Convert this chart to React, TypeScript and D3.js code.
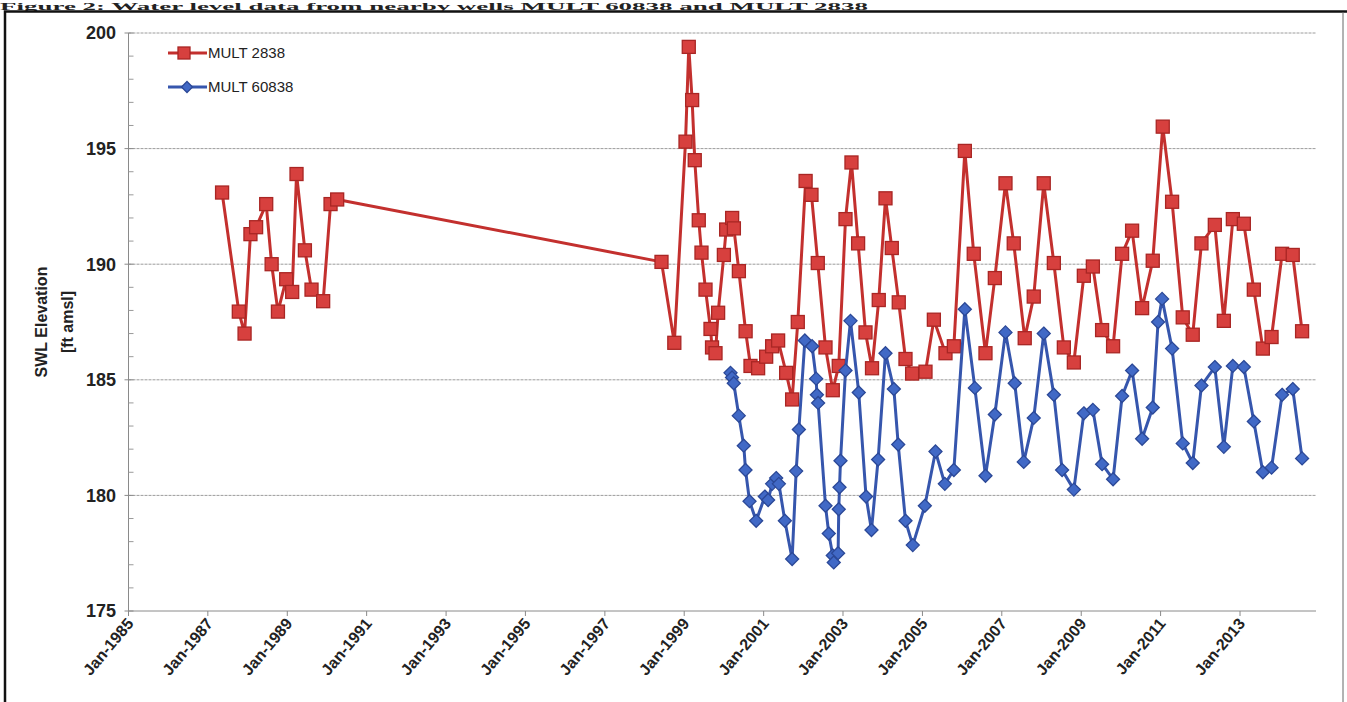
import React from "react";
import * as d3 from "d3";

const TITLE = "Figure 2: Water level data from nearby wells MULT 60838 and MULT 2838";
const Y_TITLE_1 = "SWL Elevation";
const Y_TITLE_2 = "[ft amsl]";
const SERIES_NAMES = ["MULT 2838", "MULT 60838"];

const xTickYears = [1985, 1987, 1989, 1991, 1993, 1995, 1997, 1999, 2001, 2003, 2005, 2007, 2009, 2011, 2013];
const yTicks = [175, 180, 185, 190, 195, 200];

const redDates = [
  "1987-05-12", "1987-10-13", "1987-12-05", "1988-01-28", "1988-03-20", "1988-06-21", "1988-08-10", "1988-10-07",
  "1988-12-22", "1989-02-15", "1989-03-27", "1989-06-12", "1989-08-12", "1989-11-27", "1990-02-03", "1990-04-05",
  "1998-06-06", "1998-10-02", "1999-01-13", "1999-02-12", "1999-03-15", "1999-04-08", "1999-05-15", "1999-06-09",
  "1999-07-16", "1999-08-31", "1999-09-14", "1999-10-16", "1999-11-09", "2000-01-01", "2000-01-22", "2000-03-17",
  "2000-04-02", "2000-05-18", "2000-07-19", "2000-09-02", "2000-11-11", "2001-01-24", "2001-03-20", "2001-05-14",
  "2001-07-27", "2001-09-20", "2001-11-11", "2002-01-22", "2002-03-17", "2002-05-14", "2002-07-24", "2002-09-29",
  "2002-11-23", "2003-01-24", "2003-03-20", "2003-05-20", "2003-07-27", "2003-09-25", "2003-11-26", "2004-01-27",
  "2004-03-25", "2004-05-28", "2004-07-29", "2004-09-28", "2005-01-29", "2005-04-16", "2005-08-01", "2005-10-17",
  "2006-01-26", "2006-04-18", "2006-08-04", "2006-10-29", "2007-02-04", "2007-04-21", "2007-07-31", "2007-10-22",
  "2008-01-22", "2008-04-24", "2008-07-25", "2008-10-25", "2009-01-25", "2009-04-18", "2009-07-12", "2009-10-21",
  "2010-01-12", "2010-04-14", "2010-07-15", "2010-10-21", "2011-01-21", "2011-04-17", "2011-07-24", "2011-10-24",
  "2012-01-12", "2012-05-14", "2012-08-05", "2012-10-27", "2013-02-05", "2013-05-08", "2013-07-30", "2013-10-18",
  "2014-01-23", "2014-05-01", "2014-07-26",
];
const redValues = [
  193.1, 187.95, 187.0, 191.3, 191.6, 192.6, 190.0, 187.95,
  189.35, 188.8, 193.9, 190.6, 188.9, 188.4, 192.6, 192.8,
  190.1, 186.6, 195.3, 199.4, 197.1, 194.5, 191.9, 190.5,
  188.9, 187.2, 186.4, 186.15, 187.9, 190.4, 191.5, 192.0,
  191.55, 189.7, 187.1, 185.6, 185.5, 186.0, 186.45, 186.7,
  185.3, 184.15, 187.5, 193.6, 193.0, 190.05, 186.4, 184.55,
  185.6, 191.95, 194.4, 190.9, 187.05, 185.5, 188.45, 192.85,
  190.7, 188.35, 185.9, 185.27, 185.35, 187.6, 186.15, 186.45,
  194.9, 190.45, 186.15, 189.4, 193.5, 190.9, 186.8, 188.6,
  193.5, 190.05, 186.4, 185.75, 189.5, 189.9, 187.15, 186.45,
  190.45, 191.45, 188.1, 190.15, 195.95, 192.7, 187.7, 186.95,
  190.9, 191.7, 187.55, 191.95, 191.75, 188.9, 186.35, 186.85,
  190.45, 190.4, 187.1,
];

const blueDates = [
  "2000-03-02", "2000-03-16", "2000-04-01", "2000-05-17", "2000-07-02", "2000-07-18", "2000-08-24", "2000-10-24",
  "2001-01-12", "2001-02-11", "2001-03-20", "2001-04-26", "2001-05-21", "2001-07-15", "2001-09-20", "2001-10-27",
  "2001-11-21", "2002-01-15", "2002-03-23", "2002-04-29", "2002-05-06", "2002-05-17", "2002-07-24", "2002-08-23",
  "2002-09-29", "2002-10-08", "2002-11-17", "2002-11-23", "2002-11-30", "2002-12-09", "2003-01-24", "2003-03-11",
  "2003-05-26", "2003-08-01", "2003-09-20", "2003-11-20", "2004-01-27", "2004-04-13", "2004-05-23", "2004-07-29",
  "2004-10-04", "2005-01-23", "2005-05-01", "2005-07-26", "2005-10-17", "2006-01-26", "2006-04-28", "2006-08-04",
  "2006-10-29", "2007-02-04", "2007-04-30", "2007-07-22", "2007-10-22", "2008-01-22", "2008-04-24", "2008-07-09",
  "2008-10-25", "2009-01-25", "2009-04-18", "2009-07-12", "2009-10-21", "2010-01-12", "2010-04-14", "2010-07-15",
  "2010-10-21", "2010-12-09", "2011-01-15", "2011-04-17", "2011-07-24", "2011-10-24", "2012-01-12", "2012-05-14",
  "2012-08-05", "2012-10-27", "2013-02-05", "2013-05-08", "2013-07-30", "2013-10-18", "2014-01-23", "2014-05-01",
  "2014-07-26",
];
const blueValues = [
  185.3, 185.1, 184.85, 183.45, 182.15, 181.1, 179.75, 178.9,
  179.95, 179.8, 180.5, 180.75, 180.5, 178.9, 177.25, 181.05,
  182.85, 186.7, 186.45, 185.05, 184.35, 184.0, 179.55, 178.35,
  177.4, 177.1, 177.5, 179.4, 180.35, 181.5, 185.4, 187.55,
  184.45, 179.95, 178.5, 181.55, 186.15, 184.6, 182.2, 178.9,
  177.85, 179.55, 181.9, 180.5, 181.1, 188.05, 184.65, 180.85,
  183.5, 187.05, 184.85, 181.45, 183.35, 187.0, 184.35, 181.1,
  180.25, 183.55, 183.7, 181.35, 180.7, 184.3, 185.4, 182.45,
  183.8, 187.5, 188.5, 186.35, 182.25, 181.4, 184.75, 185.55,
  182.1, 185.6, 185.55, 183.2, 181.0, 181.2, 184.35, 184.6,
  181.6,
];

const X_MIN = "1985-01-01";
const X_MAX = "2014-12-01";

const parse = d3.timeParse("%Y-%m-%d");
const fmt = d3.timeFormat("%b-%Y");

const RED_LINE = "#c3302e";
const RED_FILL = "#d7403e";
const RED_EDGE = "#a92624";
const BLUE_LINE = "#3656ad";
const BLUE_FILL = "#4169c6";
const BLUE_EDGE = "#2b4897";
const FONT = "'Liberation Sans', Arial, sans-serif";

type Pt = { d: Date; v: number };

function Square({ x, y, s }: { x: number; y: number; s: number }) {
  return <rect x={x - s / 2} y={y - s / 2} width={s} height={s} fill={RED_FILL} stroke={RED_EDGE} strokeWidth={1.3} />;
}
function Diamond({ x, y, r }: { x: number; y: number; r: number }) {
  return (
    <polygon
      points={`${x},${y - r} ${x + r},${y} ${x},${y + r} ${x - r},${y}`}
      fill={BLUE_FILL}
      stroke={BLUE_EDGE}
      strokeWidth={1.3}
    />
  );
}

export default function App() {
  const W = 1347;
  const H = 702;
  const left = 128.5;
  const right = 1316;
  const top = 33;
  const bottom = 611;

  const x = d3.scaleTime().domain([parse(X_MIN)!, parse(X_MAX)!]).range([left, right]);
  const y = d3.scaleLinear().domain([175, 200]).range([bottom, top]);

  const red: Pt[] = redDates.map((s, i) => ({ d: parse(s)!, v: redValues[i] }));
  const blue: Pt[] = blueDates.map((s, i) => ({ d: parse(s)!, v: blueValues[i] }));
  const line = d3
    .line<Pt>()
    .x((p) => x(p.d))
    .y((p) => y(p.v));

  const xTicks = xTickYears.map((yr) => new Date(yr, 0, 1));
  const minorY = d3.range(175, 201, 1).filter((v) => v % 5 !== 0);

  return (
    <svg
      width={W}
      height={H}
      style={{ position: "absolute", left: 0, top: 0, background: "#fff" }}
      fontFamily={FONT}
    >
      <rect x={0} y={0} width={W} height={H} fill="#fff" />
      {/* page title */}
      <text x={0} y={9.5} fontFamily="'Liberation Serif', 'Times New Roman', serif" fontWeight="bold" fontSize={10.5} fill="#222" textLength={868} lengthAdjust="spacingAndGlyphs">
        {TITLE}
      </text>
      {/* frame */}
      <path d={`M5,${H} V11.5 H${W}`} fill="none" stroke="#111" strokeWidth={2.5} />
      <line x1={1343} x2={1343} y1={12} y2={H} stroke="#666" strokeWidth={1} />

      {/* gridlines */}
      {yTicks
        .filter((v) => v !== 175)
        .map((v) => (
          <line key={v} x1={left} x2={right} y1={y(v)} y2={y(v)} stroke="#9c9c9c" strokeWidth={1} strokeDasharray="3,1" />
        ))}
      {/* y axis */}
      <line x1={left} x2={left} y1={top} y2={bottom} stroke="#8a8a8a" strokeWidth={1} />
      {yTicks.map((v) => (
        <line key={"yt" + v} x1={left - 4} x2={left + 5} y1={y(v)} y2={y(v)} stroke="#8a8a8a" />
      ))}
      {minorY.map((v) => (
        <line key={"ym" + v} x1={left} x2={left + 5} y1={y(v)} y2={y(v)} stroke="#9a9a9a" />
      ))}
      {yTicks.map((v) => (
        <text key={"yl" + v} x={116} y={y(v)} dy="0.35em" textAnchor="end" fontWeight="bold" fontSize={18} fill="#222">
          {v}
        </text>
      ))}
      {/* x axis */}
      <line x1={left} x2={right} y1={bottom} y2={bottom} stroke="#8a8a8a" strokeWidth={1} />
      {xTicks.map((d, i) => (
        <line key={"xt" + i} x1={x(d)} x2={x(d)} y1={bottom} y2={bottom + 5} stroke="#8a8a8a" />
      ))}
      {xTicks.map((d, i) => (
        <text
          key={"xl" + i}
          transform={`translate(${x(d) + 6},${bottom + 13}) rotate(-50)`}
          textAnchor="end"
          fontWeight="bold"
          fontSize={16}
          fill="#222"
        >
          {fmt(d)}
        </text>
      ))}
      {/* y title */}
      <text transform={`translate(41,${(top + bottom) / 2}) rotate(-90)`} textAnchor="middle" dy="0.35em" fontWeight="bold" fontSize={16} fill="#222">
        {Y_TITLE_1}
      </text>
      <text transform={`translate(67,${(top + bottom) / 2}) rotate(-90)`} textAnchor="middle" dy="0.35em" fontWeight="bold" fontSize={16} fill="#222">
        {Y_TITLE_2}
      </text>

      {/* series */}
      <path d={line(red) ?? ""} fill="none" stroke={RED_LINE} strokeWidth={3} strokeLinejoin="round" />
      {red.map((p, i) => (
        <Square key={"r" + i} x={x(p.d)} y={y(p.v)} s={13} />
      ))}
      <path d={line(blue) ?? ""} fill="none" stroke={BLUE_LINE} strokeWidth={3} strokeLinejoin="round" />
      {blue.map((p, i) => (
        <Diamond key={"b" + i} x={x(p.d)} y={y(p.v)} r={6.5} />
      ))}

      {/* legend */}
      <line x1={168} x2={207} y1={53} y2={53} stroke={RED_LINE} strokeWidth={3} />
      <Square x={184} y={53} s={12} />
      <text x={208} y={53} dy="0.35em" fontSize={15} fill="#222">
        {SERIES_NAMES[0]}
      </text>
      <line x1={168} x2={207} y1={87} y2={87} stroke={BLUE_LINE} strokeWidth={3} />
      <Diamond x={187} y={87} r={5.5} />
      <text x={208} y={87} dy="0.35em" fontSize={15} fill="#222">
        {SERIES_NAMES[1]}
      </text>
    </svg>
  );
}
